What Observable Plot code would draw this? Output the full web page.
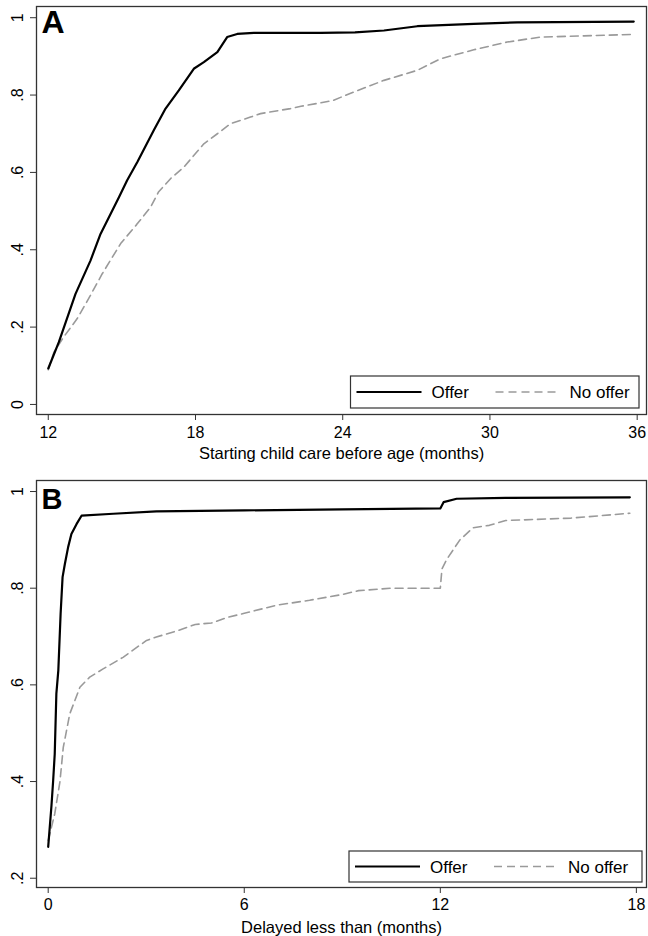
<!DOCTYPE html>
<html><head><meta charset="utf-8">
<script src="https://cdn.jsdelivr.net/npm/d3@7"></script>
<script src="https://cdn.jsdelivr.net/npm/@observablehq/plot@0.6"></script>
<style>body{margin:0;background:#fff;} svg{display:block;}</style>
</head><body><div id="chart"></div>
<script>
// ---- Panel A data ----
const monthsOfferA = [12.0,12.43,13.11,13.72,14.13,14.88,15.21,15.63,16.30,16.78,17.32,17.93,18.34,18.89,19.29,19.70,20.38,23.1,24.5,25.68,27.04,29.34,31.11,35.86];
const valuesOfferA = [0.093,0.161,0.286,0.372,0.441,0.536,0.579,0.627,0.709,0.765,0.812,0.868,0.885,0.911,0.950,0.958,0.961,0.961,0.962,0.967,0.978,0.984,0.988,0.990];
const monthsNoOfferA = [12.0,12.23,12.6,13.18,13.7,14.2,14.95,15.6,16.17,16.5,17.0,17.53,18.34,18.89,19.43,20.24,20.65,21.87,22.3,23.1,23.6,24.45,25.68,27.04,27.99,29.34,30.7,32.06,33.83,35.9];
const valuesNoOfferA = [0.09,0.135,0.172,0.222,0.28,0.338,0.416,0.465,0.51,0.55,0.585,0.614,0.674,0.70,0.726,0.743,0.752,0.765,0.771,0.78,0.786,0.808,0.838,0.864,0.894,0.917,0.937,0.950,0.953,0.957];
const xTicksA = [12,18,24,30,36];
const yTicksA = [0,0.2,0.4,0.6,0.8,1];
const yTickLabelsA = ["0",".2",".4",".6",".8","1"];

// ---- Panel B data ----
const monthsOfferB = [0,0.10,0.15,0.20,0.25,0.31,0.38,0.44,0.51,0.61,0.71,0.87,1.02,1.99,3.31,6.0,9.0,12.0,12.1,12.5,14.0,17.8];
const valuesOfferB = [0.265,0.35,0.40,0.457,0.582,0.630,0.747,0.823,0.850,0.885,0.912,0.933,0.950,0.954,0.959,0.961,0.963,0.965,0.978,0.985,0.987,0.988];
const monthsNoOfferB = [0,0.2,0.36,0.46,0.66,0.97,1.27,1.68,2.29,3.01,3.31,4.0,4.5,5.0,5.5,6.0,7.0,8.0,9.0,9.5,10.5,12.0,12.05,12.2,12.6,13.0,13.5,14.0,16.0,17.8];
const valuesNoOfferB = [0.278,0.333,0.40,0.47,0.54,0.595,0.616,0.633,0.657,0.692,0.699,0.713,0.725,0.728,0.74,0.748,0.765,0.775,0.787,0.795,0.80,0.80,0.84,0.86,0.90,0.925,0.93,0.94,0.945,0.955];
const xTicksB = [0,6,12,18];
const yTicksB = [0.2,0.4,0.6,0.8,1];
const yTickLabelsB = [".2",".4",".6",".8","1"];

const seriesNames = ["Offer","No offer"];
const FONT = "'Liberation Sans', Arial, Helvetica, sans-serif";

function toRows(xs, ys){ return xs.map((x,i)=>({x, y: ys[i]})); }

function panel(cfg){
  const svg = Plot.plot({
    width: 648, height: cfg.height,
    marginTop: cfg.mt, marginBottom: cfg.mb, marginLeft: 36, marginRight: 2,
    style: {fontFamily: FONT, fontSize: "16px", color: "#000", background: "#fff"},
    x: {domain: cfg.xDomain},
    y: {domain: cfg.yDomain},
    marks: [
      Plot.frame({stroke: "#333", strokeWidth: 1.3}),
      Plot.axisX({ticks: cfg.xTicks, tickSize: 6, tickPadding: cfg.xPad, fontSize: 16, label: null, stroke: "#333"}),
      Plot.axisY({ticks: cfg.yTicks, tickSize: 6, tickPadding: 8, tickRotate: -90, fontSize: 16, label: null, stroke: "#333",
        tickFormat: d => cfg.yLabels[cfg.yTicks.indexOf(d)]}),
      Plot.line(toRows(cfg.nx, cfg.ny), {x: "x", y: "y", stroke: "#9a9a9a", strokeWidth: 1.6, strokeDasharray: "8,5"}),
      Plot.line(toRows(cfg.ox, cfg.oy), {x: "x", y: "y", stroke: "#000", strokeWidth: 2.2}),
      Plot.text([cfg.letter], {frameAnchor: "top-left", dx: 5, dy: cfg.letterDy, textAnchor: "start", lineAnchor: "top", fontWeight: "bold", fontSize: cfg.letterSize}),
      Plot.text([cfg.title], {frameAnchor: "bottom", dy: cfg.titleDy, lineAnchor: "bottom", fontSize: 16.5})
    ]
  });
  // legend (key box)
  const g = d3.select(svg).append("g").attr("font-family", FONT).attr("font-size", 17).attr("text-anchor", "start");
  const b = cfg.legend;
  g.append("rect").attr("x", b.x).attr("y", b.y).attr("width", b.w).attr("height", b.h)
    .attr("fill", "#fff").attr("stroke", "#333").attr("stroke-width", 1.2);
  const cy = b.y + b.h/2;
  g.append("line").attr("x1", b.x+6).attr("x2", b.x+71).attr("y1", cy).attr("y2", cy).attr("stroke", "#000").attr("stroke-width", 2.2);
  g.append("text").attr("x", b.x+81).attr("y", cy).attr("dy", "0.36em").attr("text-anchor", "start").style("font-size", "17px").text(seriesNames[0]);
  g.append("line").attr("x1", b.x+145).attr("x2", b.x+210).attr("y1", cy).attr("y2", cy).attr("stroke", "#9a9a9a").attr("stroke-width", 1.6).attr("stroke-dasharray", "8,5");
  g.append("text").attr("x", b.x+219).attr("y", cy).attr("dy", "0.36em").attr("text-anchor", "start").style("font-size", "17px").text(seriesNames[1]);
  return svg;
}

const root = document.getElementById("chart");
root.appendChild(panel({
  height: 465, mt: 6, mb: 51,
  xDomain: [11.52, 36.38], yDomain: [-0.026, 1.029],
  xTicks: xTicksA, yTicks: yTicksA, yLabels: yTickLabelsA, xPad: 6,
  ox: monthsOfferA, oy: valuesOfferA, nx: monthsNoOfferA, ny: valuesNoOfferA,
  letter: "A", letterSize: 32, letterDy: 4,
  title: "Starting child care before age (months)", titleDy: 44,
  legend: {x: 350.5, y: 376, w: 288.5, h: 32}
}));
root.appendChild(panel({
  height: 471, mt: 15, mb: 49,
  xDomain: [-0.358, 18.31], yDomain: [0.1808, 1.0228],
  xTicks: xTicksB, yTicks: yTicksB, yLabels: yTickLabelsB, xPad: 5,
  ox: monthsOfferB, oy: valuesOfferB, nx: monthsNoOfferB, ny: valuesNoOfferB,
  letter: "B", letterSize: 29, letterDy: 8,
  title: "Delayed less than (months)", titleDy: 45,
  legend: {x: 349, y: 851 - 465, w: 293, h: 31}
}));
</script></body></html>
